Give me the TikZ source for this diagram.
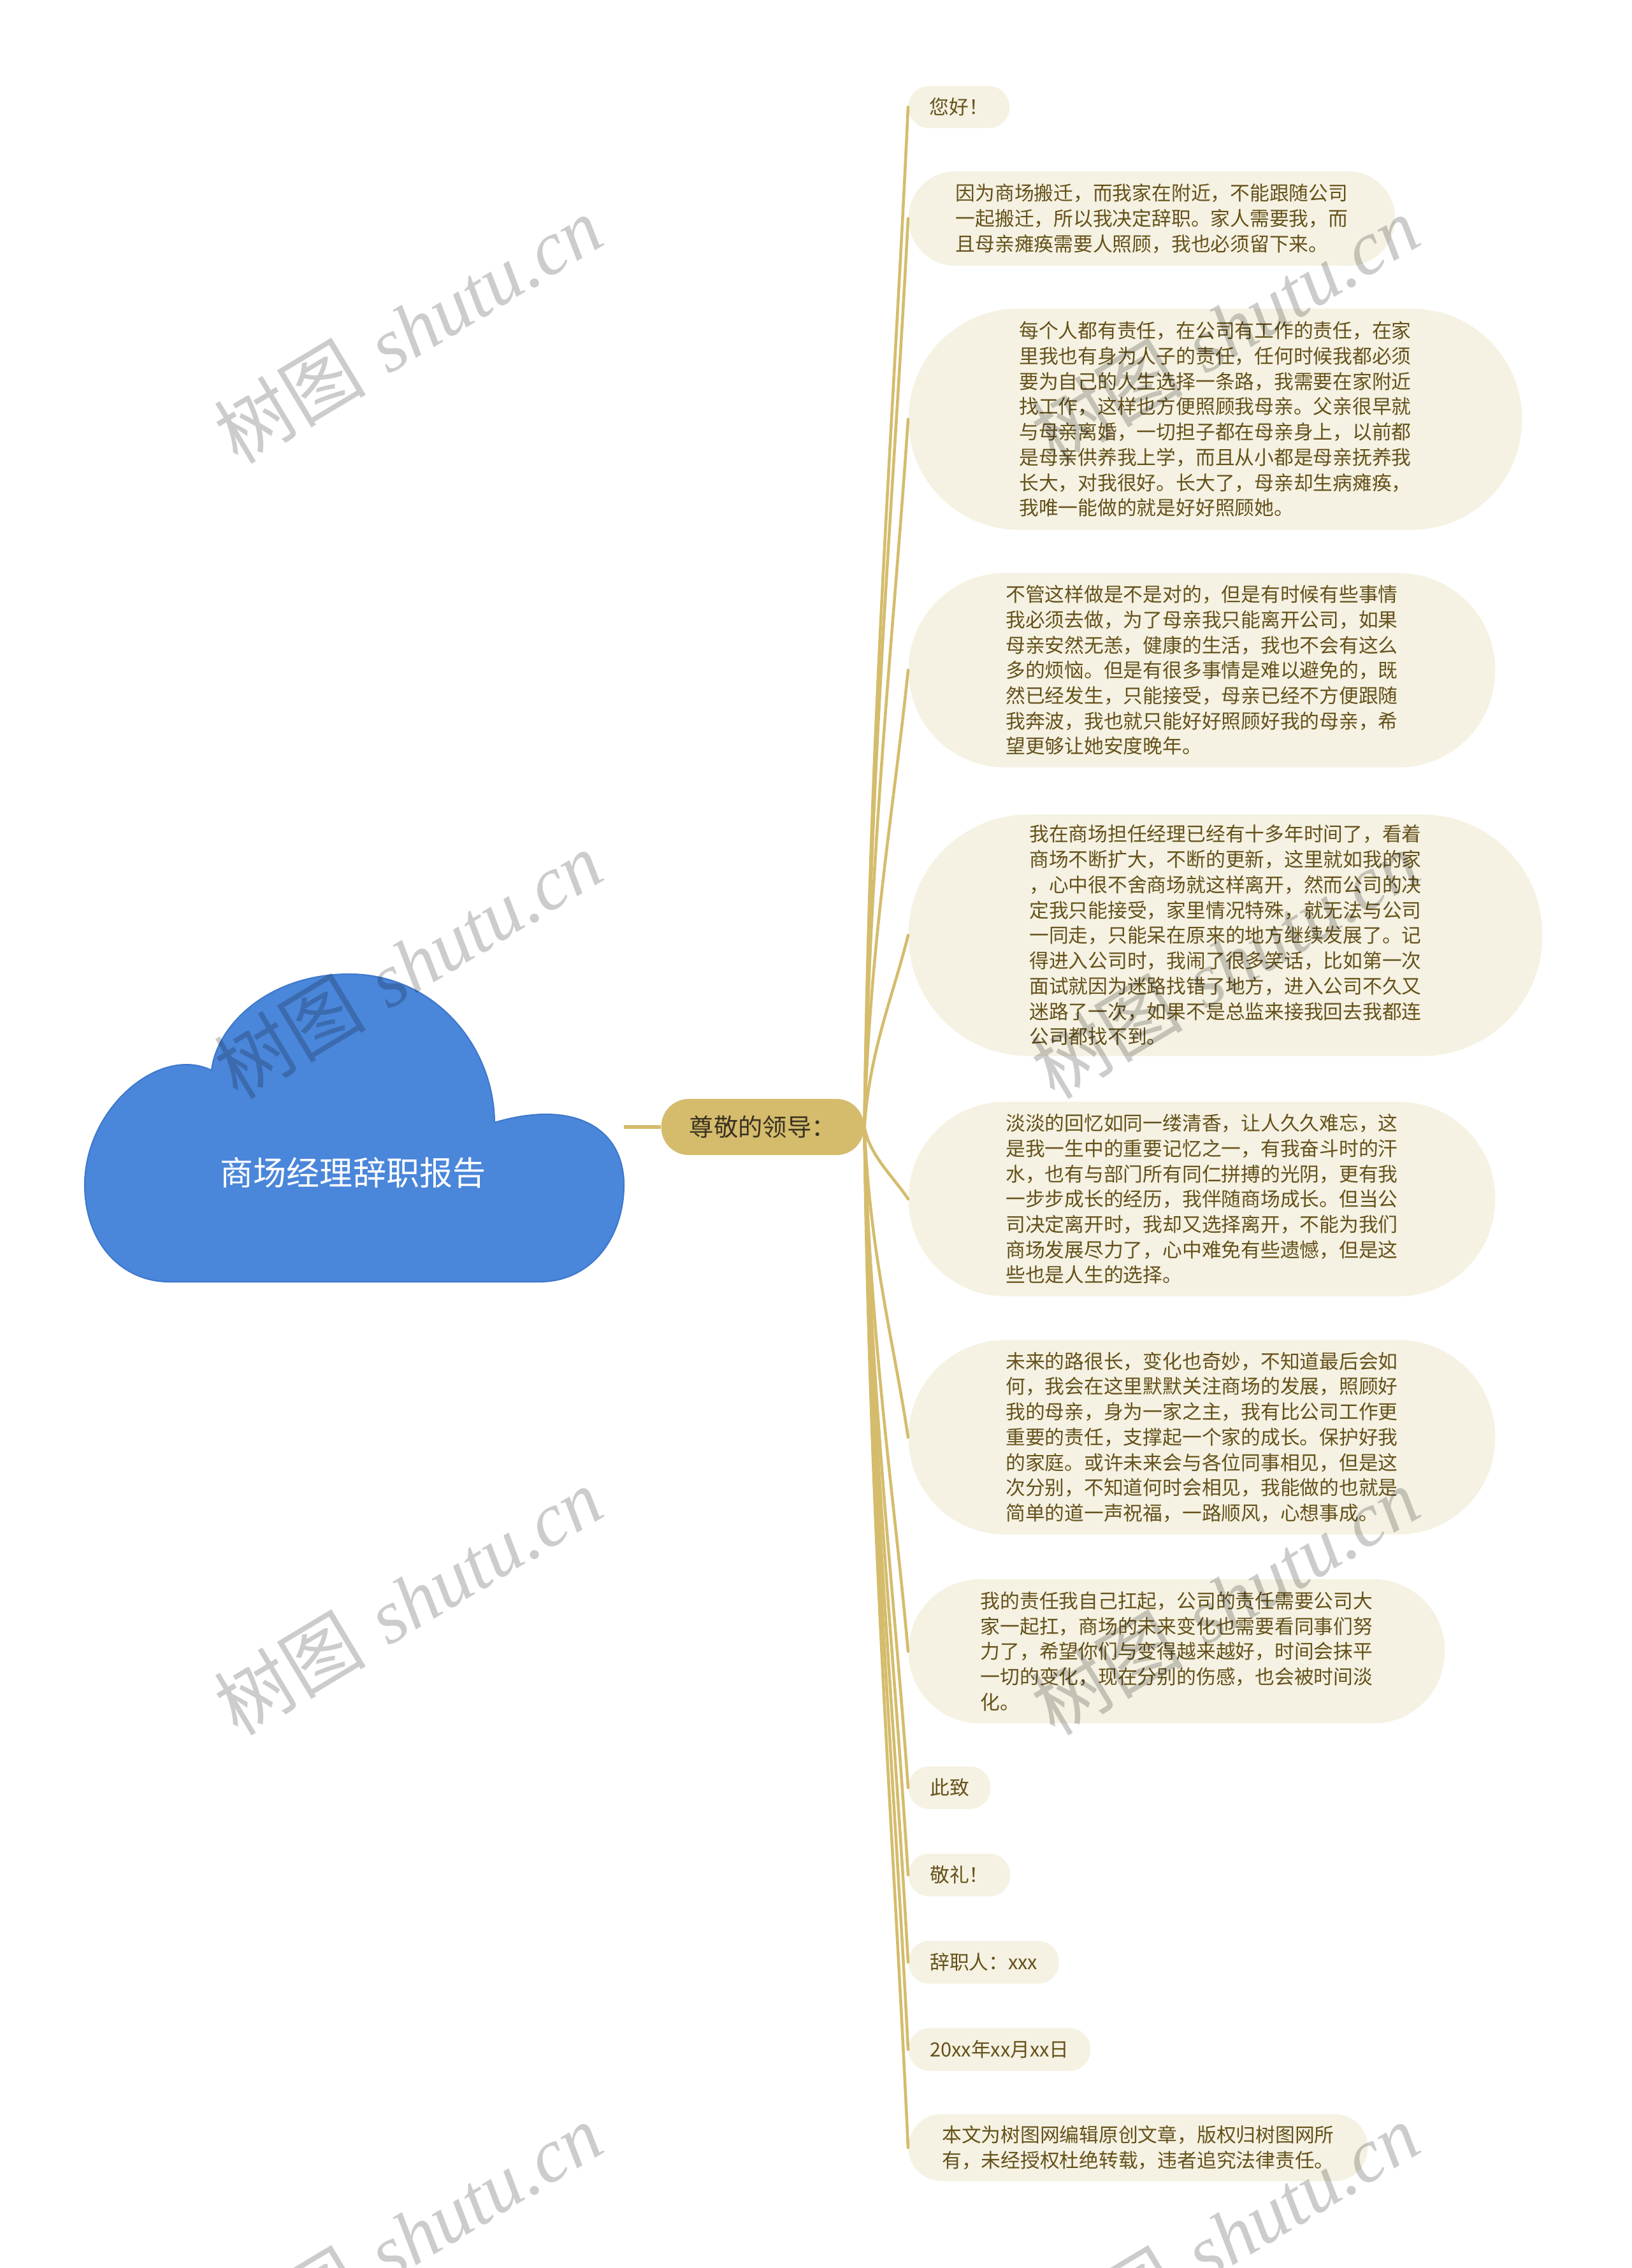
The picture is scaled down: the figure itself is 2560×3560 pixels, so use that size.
\documentclass[tikz,border=0pt]{standalone}
\usepackage{fontspec}
\newfontfamily\cjk{Noto Sans CJK SC}
\newfontfamily\wmserif{Liberation Serif}
\usepackage{xcolor}
\usepackage{tikz}
\usetikzlibrary{calc,positioning}
\definecolor{cloudblue}{HTML}{4A86DA}
\definecolor{cloudedge}{HTML}{3F78CC}
\definecolor{gold}{HTML}{D4BC6C}
\definecolor{cream}{HTML}{F5F2E3}
\definecolor{olive}{HTML}{65511A}
\definecolor{leadtext}{HTML}{3B3221}

\begin{document}
\begin{tikzpicture}[x=0.01cm, y=-0.01cm,
    memo/.style={rectangle, rounded corners=#1-0.3pt, fill=cream, text=olive, align=left, anchor=west,
      inner xsep=#1, inner ysep=0pt, minimum height=2*#1, font=\cjk\fontsize{8.75pt}{11.3pt}\selectfont},
    lead/.style={rectangle, rounded corners=0.43cm, fill=gold, text=leadtext, inner xsep=0.44cm,
      inner ysep=0pt, minimum height=0.88cm, font=\cjk\fontsize{10.9pt}{13pt}\selectfont},
    link/.style={draw=gold, line width=1.3pt, line cap=round},
    stem/.style={to path={let \p1=(\tikztostart), \p2=(\tikztotarget) in
      .. controls (\x1+0.08cm,{\y1+0.4*(\y2-\y1)}) and (\x2-0.22cm,{\y2-0.3*(\y2-\y1)}) .. (\tikztotarget)}},
    stamp/.style={rotate=31, text=black, text opacity=0.2, font=\fontsize{34pt}{34pt}\selectfont}]
  \useasboundingbox (0,0) rectangle (2560,3560);

  % central cloud
  \path[fill=cloudblue, draw=cloudedge, line width=0.6pt]
    (266,2012) -- (846,2012)
    .. controls (930,2012) and (979,1940) .. (979,1860)
    .. controls (979,1770) and (900,1725) .. (776,1762)
    .. controls (775,1640) and (680,1529) .. (548,1529)
    .. controls (420,1529) and (340,1610) .. (332,1680)
    .. controls (250,1640) and (133,1740) .. (133,1860)
    .. controls (133,1950) and (190,2012) .. (266,2012) -- cycle;
  \node[text=white, font=\cjk\fontsize{14.8pt}{16pt}\selectfont] (topic) at (554,1841) {商场经理辞职报告};
  \coordinate (cloudR) at (979,1769);

  \node[lead, right=0.58cm of cloudR] (lead) {尊敬的领导：};
  \draw[link, line width=1.7pt, line cap=butt] (cloudR) -- (lead.west);

  \node[memo=0.33cm] (c_1) at (1425,168) {您好！};
  \node[memo=0.74cm] (c_2) at (1425,343) {因为商场搬迁，而我家在附近，不能跟随公司\\一起搬迁，所以我决定辞职。家人需要我，而\\且母亲瘫痪需要人照顾，我也必须留下来。};
  \node[memo=1.735cm] (c_3) at (1425,658) {每个人都有责任，在公司有工作的责任，在家\\里我也有身为人子的责任，任何时候我都必须\\要为自己的人生选择一条路，我需要在家附近\\找工作，这样也方便照顾我母亲。父亲很早就\\与母亲离婚，一切担子都在母亲身上，以前都\\是母亲供养我上学，而且从小都是母亲抚养我\\长大，对我很好。长大了，母亲却生病瘫痪，\\我唯一能做的就是好好照顾她。};
  \node[memo=1.525cm] (c_4) at (1425,1052) {不管这样做是不是对的，但是有时候有些事情\\我必须去做，为了母亲我只能离开公司，如果\\母亲安然无恙，健康的生活，我也不会有这么\\多的烦恼。但是有很多事情是难以避免的，既\\然已经发生，只能接受，母亲已经不方便跟随\\我奔波，我也就只能好好照顾好我的母亲，希\\望更够让她安度晚年。};
  \node[memo=1.895cm] (c_5) at (1425,1468) {我在商场担任经理已经有十多年时间了，看着\\商场不断扩大，不断的更新，这里就如我的家\\，心中很不舍商场就这样离开，然而公司的决\\定我只能接受，家里情况特殊，就无法与公司\\一同走，只能呆在原来的地方继续发展了。记\\得进入公司时，我闹了很多笑话，比如第一次\\面试就因为迷路找错了地方，进入公司不久又\\迷路了一次，如果不是总监来接我回去我都连\\公司都找不到。};
  \node[memo=1.525cm] (c_6) at (1425,1882) {淡淡的回忆如同一缕清香，让人久久难忘，这\\是我一生中的重要记忆之一，有我奋斗时的汗\\水，也有与部门所有同仁拼搏的光阴，更有我\\一步步成长的经历，我伴随商场成长。但当公\\司决定离开时，我却又选择离开，不能为我们\\商场发展尽力了，心中难免有些遗憾，但是这\\些也是人生的选择。};
  \node[memo=1.525cm] (c_7) at (1425,2256) {未来的路很长，变化也奇妙，不知道最后会如\\何，我会在这里默默关注商场的发展，照顾好\\我的母亲，身为一家之主，我有比公司工作更\\重要的责任，支撑起一个家的成长。保护好我\\的家庭。或许未来会与各位同事相见，但是这\\次分别，不知道何时会相见，我能做的也就是\\简单的道一声祝福，一路顺风，心想事成。};
  \node[memo=1.13cm] (c_8) at (1425,2592) {我的责任我自己扛起，公司的责任需要公司大\\家一起扛，商场的未来变化也需要看同事们努\\力了，希望你们与变得越来越好，时间会抹平\\一切的变化，现在分别的伤感，也会被时间淡\\化。};
  \node[memo=0.335cm] (c_9) at (1425,2806) {此致};
  \node[memo=0.335cm] (c_10) at (1425,2943) {敬礼！};
  \node[memo=0.335cm] (c_11) at (1425,3080) {辞职人：xxx};
  \node[memo=0.335cm] (c_12) at (1425,3217) {20xx年xx月xx日};
  \node[memo=0.525cm] (c_13) at (1425,3371) {本文为树图网编辑原创文章，版权归树图网所\\有，未经授权杜绝转载，违者追究法律责任。};

  \path[link] (lead.east)
    edge[stem] (c_1.west) edge[stem] (c_2.west) edge[stem] (c_3.west)
    edge[stem] (c_4.west) edge[stem] (c_5.west) edge[stem] (c_6.west)
    edge[stem] (c_7.west) edge[stem] (c_8.west) edge[stem] (c_9.west)
    edge[stem] (c_10.west) edge[stem] (c_11.west) edge[stem] (c_12.west)
    edge[stem] (c_13.west);

  % watermark
  \node[stamp] (wm_1) at (640,517) {{\cjk 树图} {\wmserif\itshape shutu.cn}};
  \node[stamp] (wm_2) at (1922,517) {{\cjk 树图} {\wmserif\itshape shutu.cn}};
  \node[stamp] (wm_3) at (640,1514) {{\cjk 树图} {\wmserif\itshape shutu.cn}};
  \node[stamp] (wm_4) at (1922,1514) {{\cjk 树图} {\wmserif\itshape shutu.cn}};
  \node[stamp] (wm_5) at (640,2513) {{\cjk 树图} {\wmserif\itshape shutu.cn}};
  \node[stamp] (wm_6) at (1922,2513) {{\cjk 树图} {\wmserif\itshape shutu.cn}};
  \node[stamp] (wm_7) at (640,3511) {{\cjk 树图} {\wmserif\itshape shutu.cn}};
  \node[stamp] (wm_8) at (1922,3511) {{\cjk 树图} {\wmserif\itshape shutu.cn}};
\end{tikzpicture}
\end{document}
